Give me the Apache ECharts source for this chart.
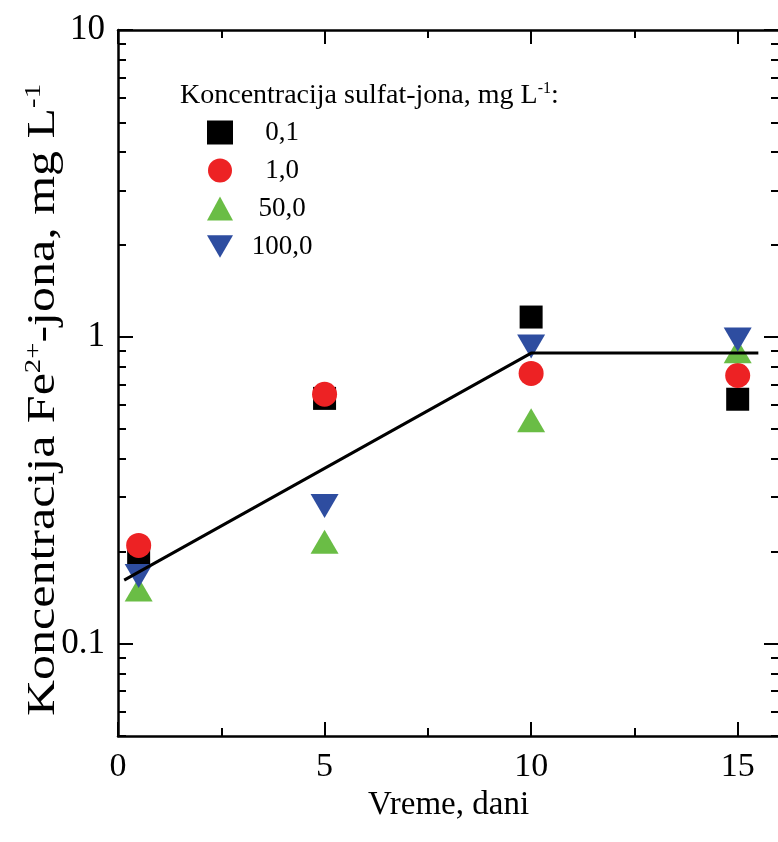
<!DOCTYPE html>
<html>
<head>
<meta charset="utf-8">
<script src="https://cdn.jsdelivr.net/npm/echarts@6/dist/echarts.min.js"></script>
<style>
html,body{margin:0;padding:0;background:#fff;overflow:hidden;}
#chart{width:782px;height:842px;}
</style>
</head>
<body>
<div id="chart"></div>
<script>
// ---- data ----
const days = [0.5, 5, 10, 15];
const seriesNames = ['0,1', '1,0', '50,0', '100,0'];
const sulfate01 = [0.195, 0.63, 1.16, 0.626];
const sulfate10 = [0.209, 0.65, 0.76, 0.748];
const sulfate50 = [0.150, 0.215, 0.535, 0.898];
const sulfate100 = [0.166, 0.281, 0.930, 0.980];
const fitX = [0.15, 10, 15.5];
const fitY = [0.161, 0.885, 0.885];
const yMajorTicks = [0.1, 1, 10];
const yMinorTicks = [0.05, 0.06, 0.07, 0.08, 0.09, 0.2, 0.3, 0.4, 0.5, 0.6, 0.7, 0.8, 0.9, 2, 3, 4, 5, 6, 7, 8, 9];
const xTickLabels = [0, 5, 10, 15];

const FONT = 'Liberation Serif';
const pairs = (xs, ys) => xs.map((x, i) => [x, ys[i]]);
const downTri = 'path://M0,0L10,0L5,8.6Z';

const chart = echarts.init(document.getElementById('chart'), null, {renderer: 'canvas'});

function yLabel(v) {
  for (const t of yMajorTicks) {
    if (Math.abs(v - t) / t < 1e-6) return String(t);
  }
  return '';
}

const baseY = {
  type: 'log', logBase: 10, min: 0.05, max: 10,
  splitLine: {show: false}, minorTick: {show: false}, minorSplitLine: {show: false}
};
const axLine = {show: true, lineStyle: {color: '#000', width: 2.5}};

const option = {
  animation: false,
  backgroundColor: '#fff',
  grid: {left: 118, top: 30, right: 0, height: 706, containLabel: false},
  xAxis: [
    {
      type: 'value', min: 0, max: 16, interval: 5, position: 'bottom',
      axisLine: {show: true, onZero: false, lineStyle: {color: '#000', width: 2.5}},
      axisTick: {show: true, inside: true, length: 14, lineStyle: {color: '#000', width: 2}},
      minorTick: {show: true, splitNumber: 2, length: 8, lineStyle: {color: '#000', width: 2}},
      splitLine: {show: false},
      axisLabel: {
        show: true, margin: 14, color: '#000', fontFamily: FONT, fontSize: 34,
        formatter: v => (xTickLabels.indexOf(v) >= 0 ? String(v) : '')
      },
      name: 'Vreme, dani', nameLocation: 'middle', nameGap: 42,
      nameTextStyle: {color: '#000', fontFamily: FONT, fontSize: 33}
    },
    {
      type: 'value', min: 0, max: 16, interval: 5, position: 'top',
      axisLine: {show: true, onZero: false, lineStyle: {color: '#000', width: 2.5}},
      axisTick: {show: true, inside: true, length: 14, lineStyle: {color: '#000', width: 2}},
      minorTick: {show: true, splitNumber: 2, length: 8, lineStyle: {color: '#000', width: 2}},
      splitLine: {show: false},
      axisLabel: {show: false}
    }
  ],
  yAxis: [
    Object.assign({}, baseY, {
      position: 'left',
      axisLine: axLine,
      axisTick: {show: true, inside: true, length: 15, lineStyle: {color: '#000', width: 2}, customValues: yMajorTicks},
      axisLabel: {show: true, margin: 13, color: '#000', fontFamily: FONT, fontSize: 35, customValues: yMajorTicks, formatter: yLabel}
    }),
    Object.assign({}, baseY, {
      position: 'left',
      axisLine: {show: false},
      axisTick: {show: true, inside: true, length: 8, lineStyle: {color: '#000', width: 2}, customValues: yMinorTicks},
      axisLabel: {show: false}
    }),
    Object.assign({}, baseY, {
      position: 'right',
      axisLine: axLine,
      axisTick: {show: true, inside: true, length: 15, lineStyle: {color: '#000', width: 2}, customValues: yMajorTicks},
      axisLabel: {show: false}
    }),
    Object.assign({}, baseY, {
      position: 'right',
      axisLine: {show: false},
      axisTick: {show: true, inside: true, length: 8, lineStyle: {color: '#000', width: 2}, customValues: yMinorTicks},
      axisLabel: {show: false}
    })
  ],
  legend: {
    show: true, orient: 'vertical', left: 202, top: 114,
    itemWidth: 26, itemHeight: 24, itemGap: 11,
    data: seriesNames,
    textStyle: {
      color: '#000', fontFamily: FONT, fontSize: 27, lineHeight: 24,
      rich: {c: {fontFamily: FONT, fontSize: 27, color: '#000', width: 88, align: 'center', lineHeight: 24}}
    },
    formatter: n => '{c|' + n + '}'
  },
  graphic: [
    {
      type: 'text', left: 180, top: 81, silent: true,
      style: {
        text: '{a|Koncentracija sulfat-jona, mg L}{s|-1}{a|:}',
        rich: {
          a: {fontFamily: FONT, fontSize: 28, fill: '#000', lineHeight: 30},
          s: {fontFamily: FONT, fontSize: 16, fill: '#000', verticalAlign: 'top', lineHeight: 17}
        }
      }
    },
    {
      type: 'text', x: 43, y: 400, rotation: Math.PI / 2, scaleX: 1.25, silent: true,
      style: {
        text: '{a|Koncentracija Fe}{s|2+}{a|-jona, mg L}{s|-1}',
        align: 'center', verticalAlign: 'middle',
        rich: {
          a: {fontFamily: FONT, fontSize: 40, fill: '#000', lineHeight: 42},
          s: {fontFamily: FONT, fontSize: 23, fill: '#000', verticalAlign: 'top', lineHeight: 23}
        }
      }
    }
  ],
  series: [
    {
      name: seriesNames[0], type: 'scatter', data: pairs(days, sulfate01),
      symbol: 'rect', symbolSize: [23, 23], itemStyle: {color: '#000', opacity: 1}, z: 2
    },
    {
      name: seriesNames[1], type: 'scatter', data: pairs(days, sulfate10),
      symbol: 'circle', symbolSize: 25, itemStyle: {color: '#ED2224', opacity: 1}, z: 2
    },
    {
      name: seriesNames[2], type: 'scatter', data: pairs(days, sulfate50),
      symbol: 'triangle', symbolSize: [28, 24], itemStyle: {color: '#6ABD45', opacity: 1}, z: 2
    },
    {
      name: seriesNames[3], type: 'scatter', data: pairs(days, sulfate100),
      symbol: downTri, symbolSize: [28, 24], itemStyle: {color: '#2E4DA0', opacity: 1}, z: 2
    },
    {
      name: 'fit', type: 'line', data: pairs(fitX, fitY),
      showSymbol: false, symbol: 'none', lineStyle: {color: '#000', width: 3}, z: 3
    }
  ]
};
chart.setOption(option);
</script>
</body>
</html>
